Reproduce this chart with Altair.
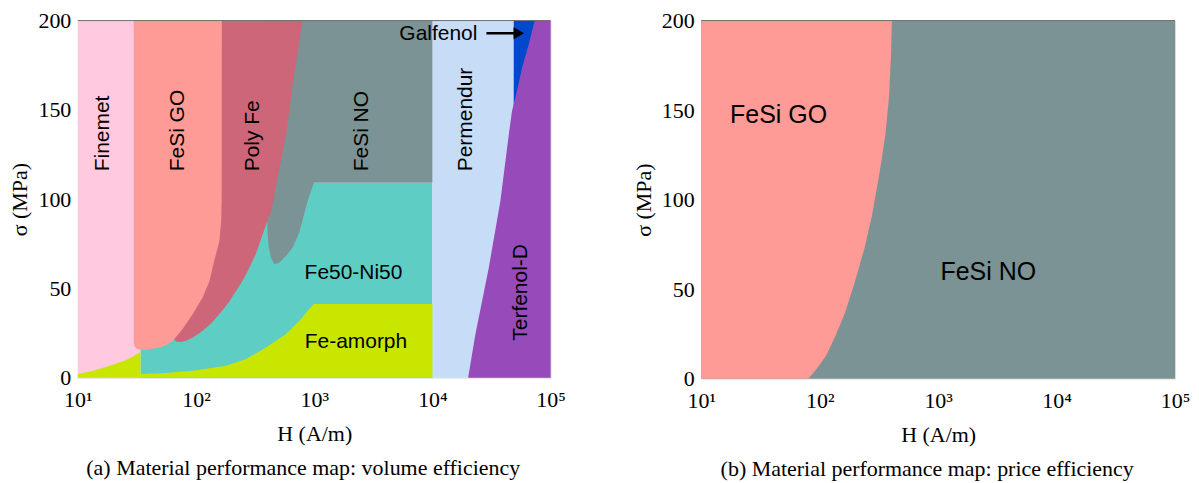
import altair as alt
import pandas as pd

# ---------------- panel (a): volume efficiency ----------------
# rectangular regions (log10 H bounds, sigma bounds in MPa)
rect_names = ["Finemet", "Fe50-Ni50", "Permendur", "Galfenol"]
rect_logh0 = [1.0, 1.53, 4.0, 4.688]
rect_logh1 = [1.53, 4.0, 5.0, 4.87]
rect_s0 = [0, 0, 0, 149]
rect_s1 = [200, 109.1, 200, 200]
rect_cols = ["#FFC9E0", "#5ECEC5", "#C6DCF7", "#0048CC"]

# Fe-amorph: upper boundary (lower = 0)
amorph_logh = [1.0, 1.129, 1.27, 1.411, 1.47, 1.523, 1.5295, 1.5305, 1.75, 1.973,
               2.255, 2.424, 2.592, 2.761, 2.873, 2.958, 2.997, 4.0]
amorph_hi = [2.0, 3.9, 6.7, 9.9, 12.0, 14.1, 14.5, 2.0, 2.6, 3.9,
             6.7, 10.4, 16.9, 24.4, 31.8, 38.4, 41.2, 41.2]

# FeSi NO: lower boundary (upper = 200)
fesino_logh = [2.597, 2.606, 2.615, 2.634, 2.662, 2.705, 2.761, 2.817, 2.873, 2.944, 2.997, 4.0]
fesino_lo = [98.9, 80.3, 73.0, 67.2, 63.5, 64.4, 68.2, 72.8, 81.2, 98.9, 109.1, 109.1]

# Poly Fe: lower boundary (upper = 200)
polyfe_logh = [1.80, 1.833, 1.87, 1.917, 1.98, 2.057, 2.13, 2.198, 2.27, 2.339, 2.40, 2.451,
               2.51, 2.564, 2.60, 2.634, 2.655, 2.677, 2.72, 2.761, 2.79, 2.817, 2.86, 2.901]
polyfe_lo = [22.5, 20.3, 20.0, 20.7, 22.8, 26.3, 30.5, 35.6, 41.5, 48.6, 55.0, 61.6,
             70.0, 80.3, 87.0, 93.3, 98.9, 108, 122, 136, 150, 164, 182, 200]

# FeSi GO: lower boundary (upper = 200)
fesigo_logh = [1.4726, 1.48, 1.50, 1.53, 1.60, 1.692, 1.75, 1.804, 1.887, 1.973, 2.056,
               2.114, 2.154, 2.198, 2.213, 2.217, 2.218]
fesigo_lo = [19.5, 17.4, 16.2, 15.6, 15.8, 16.9, 18.3, 20.7, 27.2, 35.6, 44.9,
             54.2, 65.4, 76.5, 87.7, 100, 200]

# Terfenol-D: upper boundary (lower = 0)
terfenol_logh = [4.302, 4.364, 4.477, 4.575, 4.646, 4.673, 4.72, 4.758, 4.814, 4.865, 5.0]
terfenol_hi = [0, 24.4, 61.6, 98.9, 136.1, 149.2, 162, 173.4, 186.4, 200, 200]

# labels of panel (a)
vlabel_text = ["Finemet", "FeSi GO", "Poly Fe", "FeSi NO", "Permendur", "Terfenol-D"]
vlabel_logh = [1.2135, 1.846, 2.485, 3.408, 4.286, 4.752]
vlabel_s = [115.6, 115.6, 115.6, 115.6, 115.6, 20.7]
hlabel_text = ["Fe50-Ni50", "Fe-amorph", "Galfenol"]
hlabel_logh = [3.332, 3.353, 4.05]
hlabel_s = [58.8, 19.7, 192.5]
arrow_logh = [4.457, 4.74]
arrow_head_logh = [4.731]
arrow_s = [192.9]

# ---------------- panel (b): price efficiency ----------------
b_gray_logh = [1.0, 5.0]
b_go_logh = [1.0, 1.904, 1.975, 2.055, 2.136, 2.216, 2.297, 2.377, 2.442, 2.506, 2.554, 2.586, 2.603, 2.609]
b_go_lo = [0, 0, 5.6, 13.0, 24.2, 37.2, 54.0, 72.6, 91.2, 115.3, 135.8, 158.1, 182.3, 200]
b_label_text = ["FeSi GO", "FeSi NO"]
b_label_logh = [1.653, 3.423]
b_label_s = [147, 59.5]

x_ticks = [10, 100, 1000, 10000, 100000]
y_ticks = [0, 50, 100, 150, 200]

C_GO = "#FF9B96"
C_NO = "#7B9394"
C_POLY = "#CC6678"
C_AMORPH = "#C8E600"
C_TERF = "#974AB9"

SERIF = "Liberation Serif"
SANS = "Liberation Sans"

X_SCALE = alt.Scale(type="log", domain=[10, 100000], nice=False)
Y_SCALE = alt.Scale(domain=[0, 200], nice=False, zero=False)
X_AXIS = alt.Axis(title="H (A/m)", values=x_ticks, grid=False, ticks=False, domain=False,
                  labelExpr="'10' + ['⁰','¹','²','³','⁴','⁵'][round(log(datum.value)/LN10)]",
                  labelFont=SERIF, labelFontSize=22, labelPadding=12, labelColor="black",
                  labelFlush=False, titleFont=SERIF, titleFontSize=22, titleFontWeight="normal",
                  titleColor="black", titlePadding=13)
Y_AXIS = alt.Axis(title="σ (MPa)", values=y_ticks, grid=False, ticks=False, domain=False,
                  labelFont=SERIF, labelFontSize=22, labelPadding=7, labelColor="black",
                  titleFont=SERIF, titleFontSize=22, titleFontWeight="normal",
                  titleColor="black", titlePadding=6)


def xe(f):
    return alt.X(f + ":Q", scale=X_SCALE, axis=X_AXIS)


def ye(f):
    return alt.Y(f + ":Q", scale=Y_SCALE, axis=Y_AXIS)


def pw(lst):
    return [10 ** v for v in lst]


def area(logh, lo, hi, color):
    df = pd.DataFrame({"H": pw(logh), "lo": lo, "hi": hi})
    return alt.Chart(df).mark_area(color=color, opacity=1, interpolate="linear").encode(
        x=xe("H"), y=ye("lo"), y2="hi")


def top_line():
    df = pd.DataFrame({"H0": [10], "H1": [100000], "s": [200]})
    return alt.Chart(df).mark_rule(color="#6e6e6e", strokeWidth=1).encode(
        x=xe("H0"), x2="H1", y=ye("s"))


rect_df = pd.DataFrame({"name": rect_names, "H0": pw(rect_logh0), "H1": pw(rect_logh1),
                        "s0": rect_s0, "s1": rect_s1, "col": rect_cols})
rects = alt.Chart(rect_df).mark_rect().encode(
    x=xe("H0"), x2="H1", y=ye("s0"), y2="s1", color=alt.Color("col:N", scale=None))

n = len(amorph_logh)
amorph = area(amorph_logh, [0] * n, amorph_hi, C_AMORPH)
fesino = area(fesino_logh, fesino_lo, [200] * len(fesino_logh), C_NO)
polyfe = area(polyfe_logh, polyfe_lo, [200] * len(polyfe_logh), C_POLY)
fesigo = area(fesigo_logh, fesigo_lo, [200] * len(fesigo_logh), C_GO)
terf = area(terfenol_logh, [0] * len(terfenol_logh), terfenol_hi, C_TERF)

vl_df = pd.DataFrame({"H": pw(vlabel_logh), "s": vlabel_s, "t": vlabel_text})
vlabels = alt.Chart(vl_df).mark_text(angle=270, align="left", baseline="middle", font=SANS,
                                     fontSize=21, color="black").encode(
    x=xe("H"), y=ye("s"), text="t:N")
hl_df = pd.DataFrame({"H": pw(hlabel_logh), "s": hlabel_s, "t": hlabel_text})
hlabels = alt.Chart(hl_df).mark_text(align="center", baseline="middle", font=SANS,
                                     fontSize=21, color="black").encode(
    x=xe("H"), y=ye("s"), text="t:N")
ar_df = pd.DataFrame({"H0": [10 ** arrow_logh[0]], "H1": [10 ** arrow_logh[1]], "s": arrow_s})
arrow_line = alt.Chart(ar_df).mark_rule(color="black", strokeWidth=2.5).encode(
    x=xe("H0"), x2="H1", y=ye("s"))
ah_df = pd.DataFrame({"H": pw(arrow_head_logh), "s": arrow_s})
arrow_head = alt.Chart(ah_df).mark_point(shape="triangle-right", size=150, filled=True,
                                         color="black", opacity=1).encode(
    x=xe("H"), y=ye("s"))

CAPTION_STYLE = dict(orient="bottom", anchor="middle", font=SERIF, fontSize=22,
                     fontWeight="normal", color="black", offset=14, dx=-11)

left = alt.layer(rects, amorph, fesino, polyfe, fesigo, terf, top_line(),
                 vlabels, hlabels, arrow_line, arrow_head).properties(
    width=474, height=358,
    title=alt.TitleParams("(a)  Material performance map: volume efficiency", **CAPTION_STYLE))

# panel (b)
bg_df = pd.DataFrame({"H0": [10 ** b_gray_logh[0]], "H1": [10 ** b_gray_logh[1]],
                      "s0": [0], "s1": [200]})
b_bg = alt.Chart(bg_df).mark_rect(color=C_NO).encode(x=xe("H0"), x2="H1", y=ye("s0"), y2="s1")
b_go = area(b_go_logh, b_go_lo, [200] * len(b_go_logh), C_GO)
bl_df = pd.DataFrame({"H": pw(b_label_logh), "s": b_label_s, "t": b_label_text})
b_labels = alt.Chart(bl_df).mark_text(align="center", baseline="middle", font=SANS,
                                      fontSize=25, color="black").encode(
    x=xe("H"), y=ye("s"), text="t:N")
right = alt.layer(b_bg, b_go, top_line(), b_labels).properties(
    width=475, height=359,
    title=alt.TitleParams("(b)  Material performance map: price efficiency", **CAPTION_STYLE))

chart = alt.hconcat(left, right, spacing=151, bounds="flush").properties(
    padding={"left": 0, "top": 0, "right": 0, "bottom": 0}
).configure_view(stroke=None).configure(background="white")

chart.save("out.html", embed_options={"renderer": "svg", "actions": False})
